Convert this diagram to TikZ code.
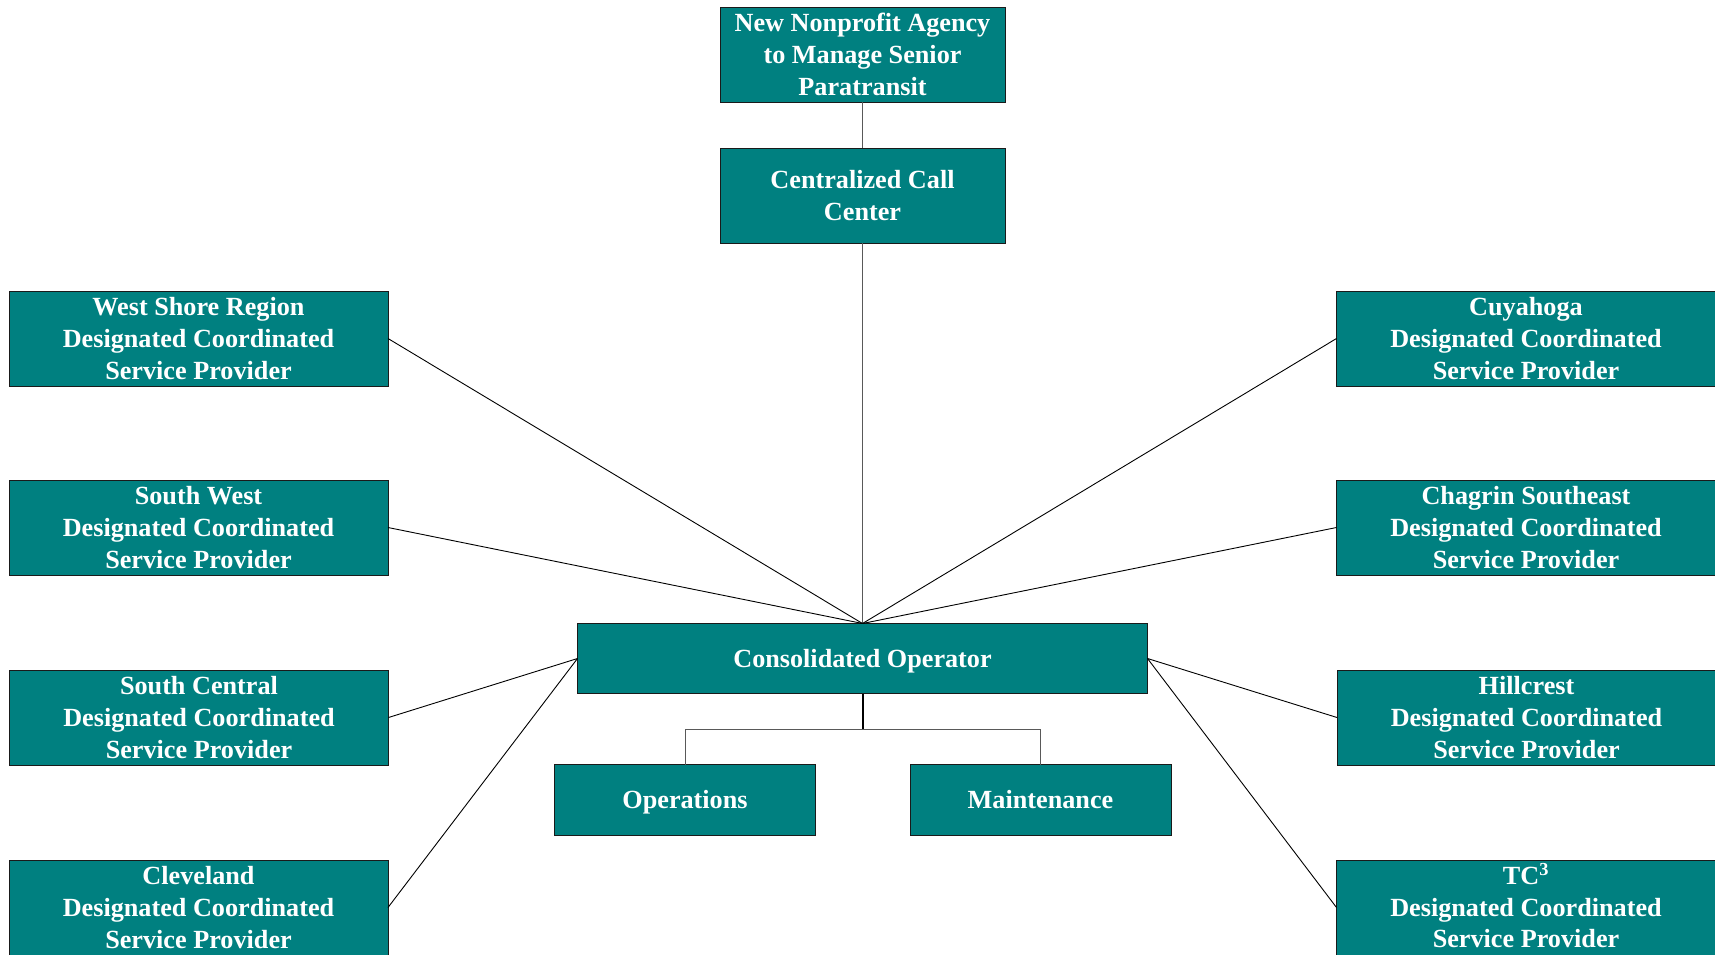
\documentclass[tikz,border=0pt]{standalone}
\usepackage{fontspec}
\setmainfont{Liberation Serif}
\definecolor{teal0}{HTML}{008080}
\definecolor{edge0}{HTML}{1A1A1A}
\begin{document}
\begin{tikzpicture}[x=1pt,y=-1pt,
  box/.style={draw=edge0, line width=0.9pt, fill=teal0, text=white, inner sep=0pt, outer sep=0pt,
    align=center, font=\bfseries\fontsize{26.2}{31.7}\selectfont},
  wide/.style={box, minimum width=379pt, minimum height=95pt},
  mid/.style={box, minimum width=285pt, minimum height=95pt},
  oneline/.style={box, text height=19pt, text depth=2pt},
  small/.style={oneline, minimum width=261pt, minimum height=71pt},
  link/.style={line width=0.9pt, draw=black},
  glink/.style={line width=1pt, draw=black!65}
]
\useasboundingbox (0,0) rectangle (1715,955);
\node[mid] (top) at (862.5,54.5) {New Nonprofit Agency\\to Manage Senior\\Paratransit};
\node[mid] (call) at (862.5,195.5) {Centralized Call\\Center};
\node[oneline, minimum width=570pt, minimum height=70pt] (cons) at (862.5,658.5) {Consolidated Operator};
\node[small] (ops) at (685,800) {Operations};
\node[small] (maint) at (1040.5,800) {Maintenance};
\node[wide] (ws) at (198.5,338.5) {West Shore Region\\Designated Coordinated\\Service Provider};
\node[wide] (sw) at (198.5,527.5) {South West\\Designated Coordinated\\Service Provider};
\node[wide] (sc) at (199,717.5) {South Central\\Designated Coordinated\\Service Provider};
\node[wide] (cl) at (198.5,907.5) {Cleveland\\Designated Coordinated\\Service Provider};
\node[wide] (cu) at (1526,338.5) {Cuyahoga\\Designated Coordinated\\Service Provider};
\node[wide] (cs) at (1526,527.5) {Chagrin Southeast\\Designated Coordinated\\Service Provider};
\node[wide] (hc) at (1526.5,717.5) {Hillcrest\\Designated Coordinated\\Service Provider};
\node[wide] (tc) at (1526,907.5) {TC\smash{\textsuperscript{3}}\\Designated Coordinated\\Service Provider};
\coordinate (jn) at (862.5,729.6);
\draw[glink] (top.south) -- (call.north);
\draw[glink] (call.south) -- (cons.north);
\draw[link] (ws.east) -- (cons.north);
\draw[link] (sw.east) -- (cons.north);
\draw[link] (cu.west) -- (cons.north);
\draw[link] (cs.west) -- (cons.north);
\draw[link] (sc.east) -- (cons.west);
\draw[link] (cl.east) -- (cons.west);
\draw[link] (hc.west) -- (cons.east);
\draw[link] (tc.west) -- (cons.east);
\draw[line width=2pt, draw=black] (cons.south) -- (jn);
\draw[glink] (ops.north) |- (jn) -| (maint.north);
\end{tikzpicture}
\end{document}
